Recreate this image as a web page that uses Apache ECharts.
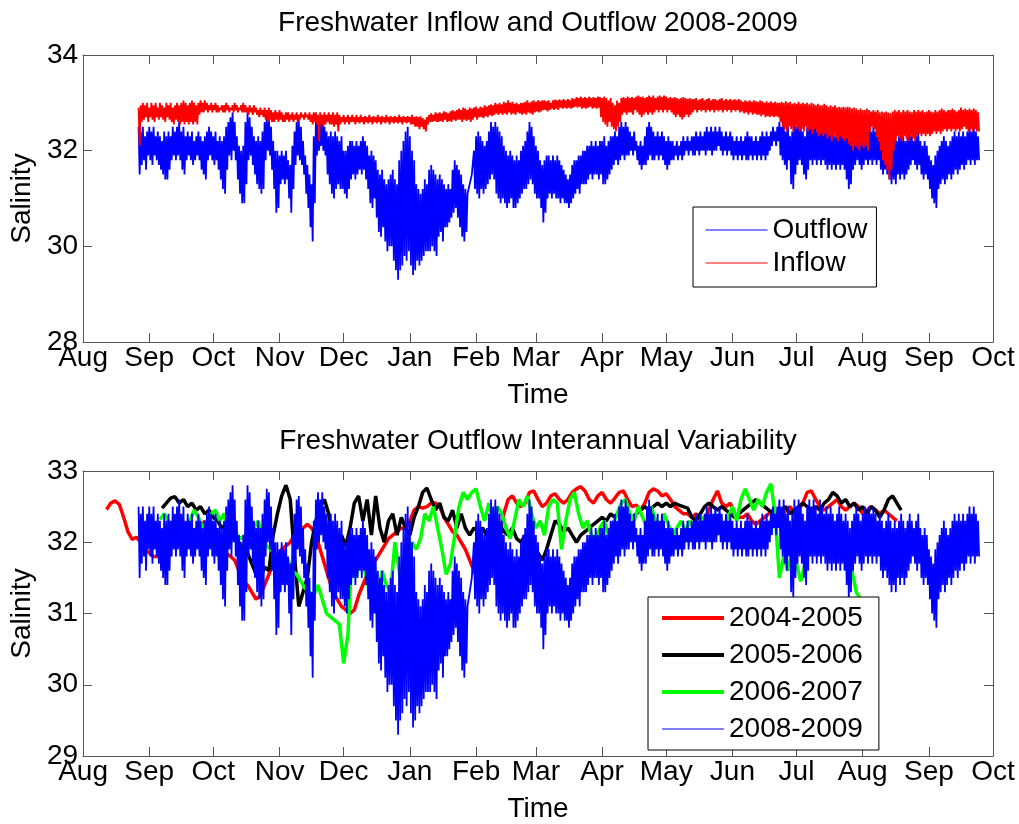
<!DOCTYPE html>
<html><head><meta charset="utf-8">
<script src="https://cdn.jsdelivr.net/npm/echarts@6/dist/echarts.min.js"></script>
<style>html,body{margin:0;padding:0;background:#fff}#c{width:1019px;height:824px}</style>
</head><body><div id="c"></div>
<script>
// x values are days since 1 Aug 2008 (for 2004-2007 series: days since 1 Aug of the first year)
const monthTicks = [0,31,61,92,122,153,184,212,243,273,304,334,365,396,426];
const monthLabels = ['Aug','Sep','Oct','Nov','Dec','Jan','Feb','Mar','Apr','May','Jun','Jul','Aug','Sep','Oct'];
const titles = ['Freshwater Inflow and Outflow 2008-2009','Freshwater Outflow Interannual Variability'];

// 2008-2009 Outflow: daily high / low salinity, starting day 26
const outflowStart = 26;
const outflowHi = [
32.5,32.4,32.5,32.3,32.4,32.5,32.4,32.5,32.3,32.4,
32.3,32.2,32.4,32.3,32.4,32.3,32.5,32.4,32.5,32.6,
32.4,32.5,32.3,32.4,32.3,32.4,32.2,32.3,32.4,32.3,
32.2,32.3,32.4,32.5,32.4,32.3,32.4,32.2,32.3,32.2,
32.3,32.5,32.6,32.7,32.8,32.6,32.3,32.1,32.0,32.1,
32.6,32.8,32.7,32.5,32.3,32.2,32.3,32.2,32.4,32.6,
32.75,32.7,32.5,32.2,32.0,32.0,31.9,32.0,31.9,32.0,
31.8,31.7,32.1,32.4,32.6,32.65,32.5,32.2,31.9,31.7,
31.5,31.3,32.3,32.6,32.7,32.6,32.7,32.5,32.4,32.3,
32.4,32.3,32.4,32.3,32.2,32.3,32.0,32.0,32.1,32.2,
32.2,32.1,32.2,32.1,32.2,32.3,32.2,32.1,31.9,32.0,
31.9,31.8,31.6,31.5,31.6,31.4,31.3,31.4,31.5,31.6,
31.4,31.3,31.8,32.0,32.2,32.4,32.5,32.3,32.0,31.8,
31.3,31.2,31.1,31.2,31.4,31.3,31.6,31.7,31.6,31.5,
31.4,31.5,31.4,31.3,31.2,31.3,31.2,31.6,31.8,31.7,
31.6,31.5,31.3,31.2,31.1,31.3,31.5,32.0,32.3,32.4,
32.3,32.2,32.1,32.2,32.4,32.6,32.5,32.6,32.5,32.4,
32.3,32.1,32.0,31.9,32.0,31.9,31.8,31.9,31.8,32.0,
32.1,32.2,32.4,32.6,32.5,32.3,32.1,32.0,31.8,31.7,
31.8,31.9,31.9,31.8,31.9,31.8,31.9,31.8,31.7,31.6,
31.5,31.4,31.5,31.7,31.8,31.8,31.9,31.9,32.0,32.0,
32.1,32.1,32.2,32.1,32.2,32.1,32.2,32.2,32.3,32.1,
32.2,32.3,32.3,32.4,32.3,32.5,32.6,32.5,32.6,32.5,
32.4,32.3,32.4,32.2,32.1,32.2,32.1,32.3,32.5,32.6,
32.5,32.4,32.3,32.4,32.3,32.4,32.3,32.2,32.3,32.2,
32.2,32.1,32.2,32.1,32.2,32.3,32.2,32.3,32.2,32.3,
32.3,32.4,32.3,32.4,32.3,32.4,32.5,32.4,32.5,32.4,
32.5,32.4,32.5,32.4,32.3,32.4,32.3,32.4,32.3,32.2,
32.3,32.2,32.3,32.2,32.3,32.4,32.3,32.3,32.2,32.3,
32.2,32.3,32.4,32.3,32.4,32.3,32.4,32.5,32.4,32.5,
32.6,32.5,32.6,32.4,32.5,32.3,32.4,32.6,32.5,32.6,
32.5,32.4,32.3,32.5,32.6,32.5,32.6,32.5,32.4,32.6,
32.5,32.4,32.5,32.4,32.5,32.4,32.3,32.4,32.5,32.4,
32.3,32.4,32.3,32.2,32.3,32.4,32.5,32.4,32.3,32.4,
32.5,32.4,32.5,32.4,32.5,32.4,32.3,32.4,32.3,32.2,
32.3,32.4,32.3,32.2,32.3,32.2,32.3,32.4,32.3,32.2,
32.3,32.4,32.3,32.2,32.3,32.4,32.2,32.1,32.2,32.1,
31.9,31.8,31.7,31.9,32.0,32.1,32.2,32.3,32.2,32.1,
32.2,32.3,32.4,32.3,32.4,32.3,32.4,32.3,32.4,32.5,
32.4,32.5,32.4,32.3];
const outflowLo = [
31.5,31.7,31.8,31.6,31.9,31.8,31.7,31.9,31.8,31.7,
31.6,31.5,31.4,31.4,31.6,31.8,31.9,31.8,31.9,31.8,
31.6,31.5,31.8,31.9,31.8,31.7,31.8,31.9,31.8,31.6,
31.5,31.4,31.8,31.9,31.8,31.7,31.8,31.6,31.4,31.2,
31.1,31.6,31.9,31.8,32.0,31.8,31.4,31.1,30.9,30.9,
31.3,31.8,31.9,31.7,31.5,31.3,31.2,31.1,31.2,31.8,
32.0,31.9,31.6,31.2,30.7,30.8,31.3,31.4,31.3,31.4,
31.0,30.7,31.2,31.7,31.9,31.8,31.7,31.5,31.1,30.8,
30.4,30.1,30.9,31.9,32.0,32.1,32.0,31.9,31.5,31.3,
31.1,31.0,31.2,31.3,31.2,31.2,31.1,31.0,31.2,31.4,
31.5,31.4,31.5,31.6,31.5,31.6,31.4,31.2,30.9,30.8,
31.0,30.6,30.3,30.2,30.4,30.1,29.9,30.0,30.0,29.7,
29.5,29.3,29.5,29.6,29.8,29.7,29.9,29.6,29.4,29.5,
29.7,29.6,29.7,29.8,29.9,29.9,29.9,30.0,29.9,29.8,
30.2,30.3,30.1,30.4,30.4,30.5,30.6,30.7,30.8,30.6,
30.4,30.2,30.1,30.3,31.1,31.3,31.5,31.2,31.1,31.0,
31.2,31.1,31.2,31.3,31.4,31.5,31.4,31.1,31.0,30.9,
31.0,30.9,30.8,30.9,31.0,30.8,30.8,30.9,31.0,31.1,
31.2,31.2,31.3,31.4,31.3,31.1,31.0,31.0,30.8,30.5,
30.7,31.0,31.1,31.0,31.1,31.0,31.0,30.9,31.0,30.9,
30.9,30.8,30.9,31.0,31.1,31.2,31.1,31.3,31.3,31.3,
31.4,31.5,31.4,31.5,31.5,31.4,31.5,31.3,31.3,31.4,
31.5,31.6,31.7,31.8,31.7,31.8,31.9,31.8,31.9,31.9,
32.0,31.9,32.0,31.8,31.7,31.6,31.7,31.7,31.8,31.9,
31.8,31.8,31.9,31.8,31.9,31.8,31.7,31.6,31.7,31.8,
31.8,31.9,31.8,31.9,31.8,31.9,32.0,31.9,32.0,31.9,
31.9,32.0,31.9,32.0,32.0,31.9,32.0,32.0,31.9,32.0,
32.0,32.1,32.0,31.9,32.0,31.9,32.0,31.9,31.8,31.9,
31.8,31.9,31.8,31.9,31.8,31.8,31.9,31.8,31.9,31.8,
31.9,31.8,31.9,31.8,31.9,32.0,32.1,32.2,32.1,32.2,
31.9,31.8,31.7,31.6,31.8,31.3,31.2,31.5,31.7,31.8,
31.7,31.5,31.4,31.6,31.8,31.7,31.8,31.7,31.8,31.7,
31.8,31.7,31.6,31.7,31.6,31.7,31.6,31.7,31.6,31.7,
31.6,31.4,31.2,31.3,31.6,31.7,31.8,31.7,31.6,31.7,
31.8,31.7,31.8,31.7,31.8,31.7,31.8,31.6,31.5,31.6,
31.5,31.4,31.3,31.4,31.3,31.5,31.4,31.5,31.4,31.5,
31.6,31.7,31.8,31.7,31.6,31.7,31.5,31.4,31.5,31.4,
31.2,31.0,30.9,30.8,31.2,31.3,31.4,31.3,31.4,31.5,
31.4,31.5,31.6,31.5,31.6,31.7,31.6,31.7,31.8,31.7,
31.8,31.7,31.8,31.8];

// 2008-2009 Inflow: daily high / low salinity, starting day 26
const inflowStart = 26;
const inflowHi = [
32.9,32.95,33.0,32.95,33.0,32.9,33.0,32.95,33.0,32.9,
33.0,32.95,32.9,33.0,32.95,33.0,32.9,32.95,33.0,32.95,
33.0,33.05,33.0,32.95,33.0,33.05,33.0,32.95,33.0,33.05,
33.0,33.05,33.0,32.95,33.0,32.95,33.0,32.95,32.9,32.95,
32.95,33.0,32.95,32.9,32.95,33.0,32.95,32.9,32.95,33.0,
32.95,32.9,32.95,32.9,32.95,32.9,32.85,32.9,32.85,32.9,
32.85,32.9,32.85,32.8,32.85,32.8,32.85,32.8,32.75,32.8,
32.8,32.75,32.8,32.75,32.8,32.75,32.8,32.75,32.8,32.75,
32.8,32.75,32.8,32.8,32.75,32.8,32.75,32.8,32.75,32.8,
32.75,32.8,32.75,32.8,32.75,32.7,32.75,32.7,32.75,32.7,
32.75,32.7,32.75,32.7,32.75,32.7,32.72,32.7,32.75,32.7,
32.72,32.7,32.75,32.7,32.72,32.7,32.75,32.7,32.72,32.7,
32.72,32.7,32.75,32.7,32.72,32.7,32.72,32.7,32.75,32.7,
32.72,32.7,32.72,32.68,32.65,32.7,32.75,32.78,32.75,32.8,
32.78,32.8,32.78,32.82,32.8,32.78,32.82,32.85,32.82,32.85,
32.88,32.85,32.9,32.88,32.85,32.9,32.88,32.9,32.92,32.88,
32.92,32.9,32.95,32.92,32.95,32.97,32.95,33.0,32.97,33.0,
32.97,33.02,33.0,33.05,33.0,33.02,32.98,33.0,32.97,33.0,
33.0,33.02,33.05,33.0,33.03,33.05,33.02,33.05,33.03,33.05,
33.05,33.03,33.05,33.0,33.05,33.07,33.05,33.07,33.05,33.08,
33.05,33.08,33.05,33.1,33.08,33.12,33.1,33.13,33.1,33.12,
33.1,33.13,33.1,33.12,33.1,33.13,33.12,33.1,33.13,33.1,
33.05,33.1,33.0,32.95,33.05,33.0,33.1,33.12,33.1,33.13,
33.1,33.12,33.1,33.13,33.15,33.12,33.13,33.1,33.12,33.15,
33.12,33.15,33.1,33.13,33.15,33.12,33.15,33.13,33.1,33.12,
33.1,33.12,33.1,33.08,33.1,33.12,33.1,33.08,33.1,33.08,
33.08,33.1,33.05,33.08,33.1,33.05,33.08,33.1,33.05,33.08,
33.08,33.05,33.08,33.1,33.05,33.08,33.05,33.08,33.05,33.08,
33.05,33.08,33.05,33.02,33.05,33.03,33.05,33.02,33.05,33.03,
33.02,33.05,33.03,33.0,33.03,33.0,33.03,33.0,33.02,33.0,
33.0,33.02,33.0,33.03,33.0,33.02,32.98,33.0,32.98,33.02,
32.98,33.0,32.98,33.0,32.97,33.0,32.98,32.95,32.98,32.95,
32.95,32.98,32.95,32.92,32.95,32.92,32.95,32.9,32.92,32.9,
32.92,32.9,32.92,32.9,32.88,32.9,32.88,32.85,32.88,32.85,
32.85,32.88,32.85,32.82,32.85,32.82,32.85,32.8,32.82,32.8,
32.82,32.8,32.78,32.82,32.85,32.82,32.85,32.8,32.85,32.82,
32.85,32.82,32.8,32.85,32.82,32.85,32.82,32.85,32.8,32.82,
32.85,32.82,32.8,32.85,32.82,32.85,32.88,32.85,32.82,32.85,
32.85,32.88,32.85,32.82,32.85,32.9,32.85,32.88,32.85,32.88,
32.85,32.88,32.85,32.8];
const inflowLo = [
32.1,32.6,32.65,32.7,32.6,32.7,32.65,32.6,32.7,32.65,
32.7,32.65,32.6,32.7,32.65,32.6,32.55,32.65,32.6,32.55,
32.6,32.55,32.6,32.55,32.6,32.55,32.6,32.55,32.75,32.8,
32.8,32.85,32.8,32.85,32.8,32.85,32.8,32.8,32.85,32.8,
32.8,32.85,32.8,32.85,32.8,32.85,32.8,32.85,32.8,32.8,
32.8,32.75,32.8,32.75,32.8,32.75,32.7,32.75,32.7,32.65,
32.6,32.65,32.6,32.6,32.65,32.6,32.65,32.6,32.6,32.65,
32.6,32.65,32.6,32.65,32.6,32.65,32.7,32.65,32.7,32.65,
32.6,32.55,32.6,32.55,32.2,32.55,32.5,32.55,32.6,32.55,
32.55,32.5,32.55,32.4,32.55,32.6,32.55,32.6,32.55,32.6,
32.6,32.55,32.6,32.57,32.6,32.55,32.6,32.57,32.6,32.55,
32.6,32.57,32.6,32.55,32.6,32.57,32.6,32.55,32.6,32.57,
32.6,32.57,32.6,32.55,32.6,32.57,32.6,32.55,32.55,32.5,
32.5,32.45,32.5,32.45,32.4,32.55,32.6,32.6,32.62,32.6,
32.6,32.62,32.6,32.65,32.6,32.62,32.6,32.65,32.62,32.65,
32.65,32.6,32.65,32.62,32.65,32.6,32.65,32.7,32.65,32.7,
32.7,32.68,32.72,32.7,32.75,32.72,32.75,32.78,32.75,32.78,
32.75,32.78,32.75,32.8,32.75,32.78,32.75,32.8,32.78,32.75,
32.78,32.75,32.8,32.78,32.75,32.8,32.82,32.8,32.82,32.85,
32.85,32.82,32.85,32.88,32.85,32.88,32.85,32.9,32.88,32.9,
32.88,32.9,32.88,32.9,32.92,32.9,32.92,32.88,32.9,32.88,
32.9,32.92,32.88,32.9,32.88,32.9,32.7,32.6,32.55,32.5,
32.6,32.5,32.45,32.4,32.5,32.6,32.75,32.8,32.75,32.8,
32.8,32.75,32.85,32.8,32.75,32.7,32.75,32.8,32.75,32.8,
32.75,32.8,32.85,32.8,32.85,32.8,32.85,32.8,32.85,32.8,
32.75,32.7,32.75,32.7,32.65,32.7,32.75,32.7,32.75,32.8,
32.85,32.8,32.85,32.82,32.85,32.8,32.85,32.82,32.85,32.8,
32.85,32.82,32.85,32.8,32.85,32.82,32.85,32.8,32.85,32.82,
32.85,32.8,32.82,32.78,32.8,32.75,32.8,32.75,32.78,32.75,
32.75,32.72,32.75,32.7,32.72,32.7,32.72,32.7,32.72,32.7,
32.6,32.5,32.45,32.4,32.5,32.45,32.4,32.5,32.45,32.4,
32.45,32.4,32.5,32.4,32.45,32.35,32.45,32.4,32.3,32.35,
32.3,32.35,32.25,32.3,32.2,32.3,32.25,32.2,32.3,32.25,
32.2,32.25,32.15,32.1,32.0,32.1,32.05,32.0,32.1,32.05,
32.1,32.0,32.4,32.5,32.45,32.3,32.2,32.0,31.8,31.7,
31.6,31.4,31.6,32.0,32.2,32.3,32.25,32.2,32.3,32.25,
32.2,32.3,32.25,32.2,32.3,32.35,32.3,32.35,32.3,32.35,
32.3,32.35,32.4,32.35,32.4,32.35,32.4,32.45,32.4,32.45,
32.4,32.45,32.4,32.45,32.4,32.45,32.5,32.45,32.4,32.45,
32.4,32.45,32.4,32.4];

// Interannual outflow (subtidal), every 2 days
const s0405Start = 11;
const s0405 = [32.46,32.55,32.58,32.53,32.35,32.15,32.04,32.07,32.0,31.9,
31.85,31.8,31.8,31.9,32.0,32.05,32.0,32.05,32.1,32.0,
32.05,32.15,32.2,32.3,32.2,32.1,32.0,31.95,31.85,31.8,
31.75,31.6,31.45,31.4,31.3,31.2,31.25,31.4,31.55,31.7,
31.8,31.9,31.95,32.0,32.1,32.15,32.2,32.25,32.2,32.1,
31.9,31.7,31.5,31.3,31.2,31.1,31.05,31.0,31.05,31.25,
31.4,31.55,31.7,31.75,31.85,31.95,32.05,32.1,32.15,32.2,
32.2,32.3,32.45,32.5,32.48,32.5,32.55,32.55,32.5,32.35,
32.25,32.15,32.1,32.0,31.9,31.75,31.6,31.45,31.35,31.5,
31.7,31.9,32.1,32.4,32.6,32.65,32.55,32.5,32.55,32.7,
32.72,32.6,32.5,32.55,32.65,32.68,32.6,32.55,32.6,32.7,
32.75,32.78,32.72,32.6,32.55,32.65,32.7,32.6,32.55,32.62,
32.7,32.72,32.6,32.5,32.52,32.45,32.55,32.7,32.75,32.72,
32.65,32.68,32.6,32.5,32.45,32.4,32.4,32.35,32.4,32.35,
32.3,32.45,32.6,32.72,32.55,32.5,32.55,32.4,32.35,32.35,
32.4,32.3,32.25,32.3,32.35,32.4,32.45,32.35,32.3,32.45,
32.5,32.4,32.45,32.55,32.7,32.72,32.6,32.5,32.45,32.5,
32.55,32.6,32.5,32.45,32.5,32.55,32.5,32.4,32.45,32.5,
32.45,32.4,32.45,32.4,32.35,32.3];
const s0506Start = 37;
const s0506 = [32.48,32.55,32.62,32.64,32.55,32.6,32.5,32.55,32.45,32.5,
32.4,32.45,32.35,32.3,32.2,32.25,32.1,32.05,32.0,31.9,
31.85,31.7,31.55,31.5,31.65,31.6,32.1,32.4,32.65,32.8,
32.6,31.8,31.1,31.3,31.5,32.0,32.3,32.5,32.6,32.4,
32.0,31.8,32.1,31.95,32.2,32.55,32.65,32.3,32.6,32.1,
32.65,32.2,32.0,32.3,32.4,32.1,32.35,32.2,32.1,32.35,
32.5,32.7,32.76,32.6,32.45,32.55,32.35,32.3,32.45,32.2,
32.4,32.2,32.1,32.2,32.15,32.2,32.1,32.2,32.3,32.25,
32.15,32.1,32.2,32.05,32.0,32.1,31.95,31.9,31.85,31.75,
31.9,32.1,32.3,32.25,32.15,32.2,32.1,32.0,32.1,32.15,
32.2,32.25,32.3,32.35,32.3,32.4,32.35,32.4,32.45,32.4,
32.35,32.4,32.45,32.5,32.45,32.5,32.55,32.5,32.55,32.5,
32.55,32.52,32.5,32.48,32.35,32.3,32.4,32.5,32.55,32.5,
32.45,32.5,32.45,32.4,32.35,32.4,32.45,32.5,32.55,32.6,
32.55,32.5,32.45,32.4,32.35,32.45,32.5,32.4,32.45,32.5,
32.55,32.5,32.45,32.5,32.45,32.55,32.6,32.7,32.65,32.55,
32.6,32.5,32.55,32.45,32.5,32.4,32.5,32.45,32.35,32.45,
32.6,32.65,32.55,32.45];
const s0607Start = 36;
const s0607 = [32.32,32.4,32.3,32.2,32.3,32.15,32.2,32.3,32.45,32.35,
32.2,32.3,32.4,32.45,32.3,32.4,32.2,32.3,32.1,32.05,
32.1,32.25,32.2,32.3,32.1,31.95,31.9,31.8,31.75,31.7,
31.75,31.6,31.55,31.45,31.35,31.3,31.25,31.4,31.2,31.0,
30.95,30.9,30.85,30.3,30.7,31.9,31.5,32.1,31.6,31.3,
31.5,31.25,31.6,31.4,31.3,32.0,31.6,31.2,31.8,32.0,
31.9,32.05,32.4,32.3,32.5,32.2,31.9,31.55,31.7,32.1,
32.5,32.7,32.6,32.7,32.75,32.5,32.3,32.55,32.3,32.5,
32.4,32.2,32.05,32.3,32.6,32.5,32.65,32.4,32.2,32.3,
32.1,32.5,32.6,32.55,31.9,32.3,32.6,32.7,32.4,32.2,
32.3,32.1,32.05,32.2,32.3,32.1,32.25,32.4,32.55,32.6,
32.4,32.3,32.5,32.35,32.2,32.5,32.3,32.15,32.4,32.25,
32.1,32.2,32.3,32.15,32.3,32.2,32.25,32.35,32.3,32.2,
32.4,32.3,32.2,32.35,32.5,32.3,32.6,32.75,32.6,32.45,
32.6,32.5,32.7,32.82,32.4,31.5,31.8,31.6,31.9,31.7,
31.45,31.7,32.1,32.2,32.0,32.1,32.2,32.1,32.0,32.1,
32.0,31.9,31.6,31.3,31.2];

function zigzag(start, hi, lo) {
  const out = [];
  const n = Math.min(hi.length, lo.length);
  for (let i = 0; i < n; i++) { out.push([start + i, hi[i]]); out.push([start + i + 0.5, lo[i]]); }
  return out;
}
function stepped(start, vals, step) { return vals.map((v, i) => [start + i * step, v]); }

const FONT = "'Liberation Sans', Arial, sans-serif";
const AX = '#555';
const fmt = v => { const k = monthTicks.indexOf(v); return k >= 0 ? monthLabels[k] : ''; };
function xAxes(gi) {
  const base = { gridIndex: gi, type: 'value', min: 0, max: 426, splitLine: { show: false },
    axisLine: { show: true, onZero: false, lineStyle: { color: AX, width: 1 } },
    axisTick: { show: true, inside: true, length: 9, customValues: monthTicks, lineStyle: { color: AX } } };
  return [
    Object.assign({}, base, { position: 'bottom',
      axisLabel: { show: true, customValues: monthTicks, formatter: fmt, fontSize: 28, color: '#000', fontFamily: FONT, margin: 2 },
      name: 'Time', nameLocation: 'middle', nameGap: 39,
      nameTextStyle: { fontSize: 28, color: '#000', fontFamily: FONT } }),
    Object.assign({}, base, { position: 'top', axisLabel: { show: false } })
  ];
}
function yAxes(gi, mn, mx, iv) {
  const base = { gridIndex: gi, type: 'value', min: mn, max: mx, interval: iv, splitLine: { show: false },
    axisLine: { show: true, onZero: false, lineStyle: { color: AX, width: 1 } },
    axisTick: { show: true, inside: true, length: 9, lineStyle: { color: AX } } };
  return [
    Object.assign({}, base, { position: 'left',
      axisLabel: { fontSize: 28, color: '#000', fontFamily: FONT, margin: 5 },
      name: 'Salinity', nameLocation: 'middle', nameGap: 46, nameRotate: 90,
      nameTextStyle: { fontSize: 28, color: '#000', fontFamily: FONT } }),
    Object.assign({}, base, { position: 'right', axisLabel: { show: false } })
  ];
}
function lineSeries(name, data, color, width, xi, yi) {
  return { name, type: 'line', data, xAxisIndex: xi, yAxisIndex: yi, symbol: 'none', showSymbol: false,
    lineStyle: { color, width }, itemStyle: { color }, animation: false, connectNulls: true };
}
const legendText = { fontSize: 28, color: '#000', fontFamily: FONT, lineHeight: 28 };

const chart = echarts.init(document.getElementById('c'), null, { renderer: 'canvas' });
chart.setOption({
  animation: false,
  backgroundColor: '#fff',
  title: [
    { text: titles[0], left: 538, top: 9, textAlign: 'center', padding: 0,
      textStyle: { fontSize: 28, fontWeight: 'normal', color: '#000', fontFamily: FONT } },
    { text: titles[1], left: 538, top: 427, textAlign: 'center', padding: 0,
      textStyle: { fontSize: 28, fontWeight: 'normal', color: '#000', fontFamily: FONT } }
  ],
  grid: [
    { left: 83, top: 55, width: 910, height: 287 },
    { left: 83, top: 471, width: 910, height: 288 }
  ],
  xAxis: [...xAxes(0), ...xAxes(1)],
  yAxis: [...yAxes(0, 28, 34, 2), ...yAxes(1, 29, 33, 1)],
  legend: [
    { data: [{ name: 'Outflow', lineStyle: { width: 1 } }, { name: 'Inflow', lineStyle: { width: 1 } }],
      orient: 'vertical', left: 693, top: 207, padding: [9, 9, 10, 12],
      itemWidth: 62, itemHeight: 14, itemGap: 5, selectedMode: false, borderColor: '#000', borderWidth: 1,
      backgroundColor: '#fff', textStyle: legendText, itemStyle: { opacity: 0 } },
    { data: [{ name: '2004-2005', lineStyle: { width: 4 } }, { name: '2005-2006', lineStyle: { width: 4 } },
             { name: '2006-2007', lineStyle: { width: 4 } }, { name: '2008-2009', lineStyle: { width: 1 } }],
      orient: 'vertical', left: 648, top: 597,
      padding: [7, 16, 7, 12], itemWidth: 62, itemHeight: 14, itemGap: 9, selectedMode: false,
      borderColor: '#000', borderWidth: 1, backgroundColor: '#fff', textStyle: legendText, itemStyle: { opacity: 0 } }
  ],
  series: [
    lineSeries('Outflow', zigzag(outflowStart, outflowHi, outflowLo), '#0000ff', 1.8, 0, 0),
    lineSeries('Inflow', zigzag(inflowStart, inflowHi, inflowLo), '#ff0000', 1.8, 0, 0),
    lineSeries('2004-2005', stepped(s0405Start, s0405, 2), '#ff0000', 3.5, 2, 2),
    lineSeries('2005-2006', stepped(s0506Start, s0506, 2), '#000000', 3.5, 2, 2),
    lineSeries('2006-2007', stepped(s0607Start, s0607, 2), '#00ff00', 3.5, 2, 2),
    lineSeries('2008-2009', zigzag(outflowStart, outflowHi, outflowLo), '#0000ff', 1.8, 2, 2)
  ]
});
</script></body></html>
